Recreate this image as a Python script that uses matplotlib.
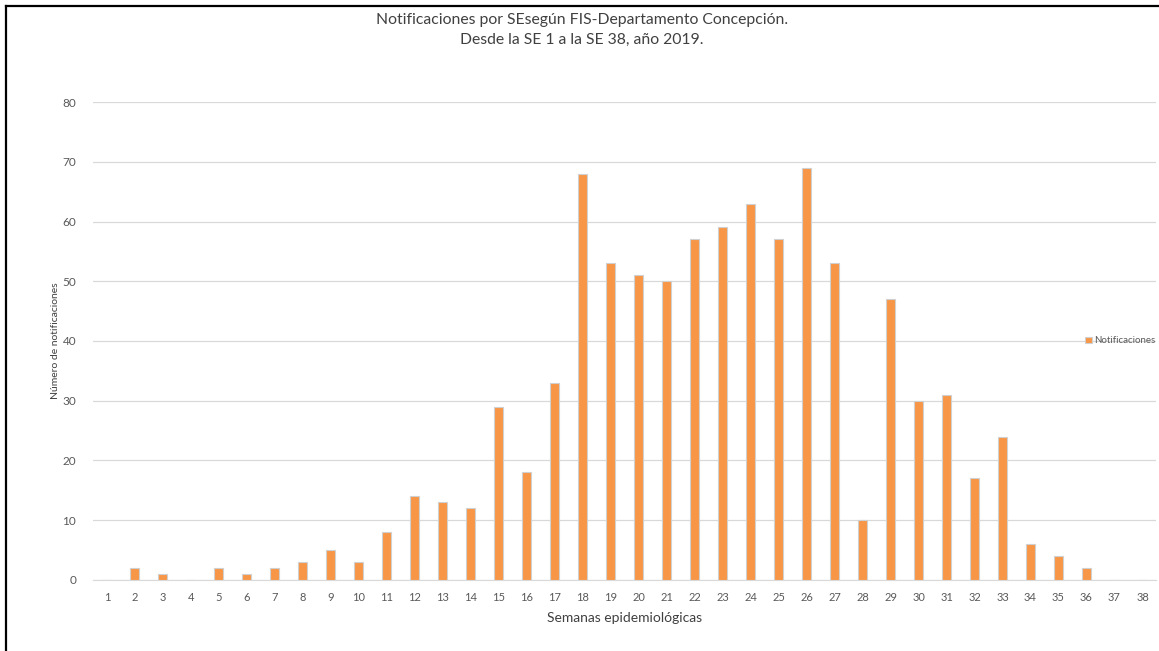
import numpy as np
import matplotlib.pyplot as plt
from matplotlib.lines import Line2D

# Weekly notifications, SE 1 to SE 38
semanas = list(range(1, 39))
notificaciones = [0, 2, 1, 0, 2, 1, 2, 3, 5, 3, 8, 14, 13, 12, 29, 18, 33, 68, 53, 51,
                  50, 57, 59, 63, 57, 69, 53, 10, 47, 30, 31, 17, 24, 6, 4, 2, 0, 0]

plt.rcParams['font.family'] = ['Lato', 'DejaVu Sans']

fig = plt.figure(figsize=(11.59, 6.51), dpi=100)
ax = fig.add_axes([0.0802, 0.1091, 0.9176, 0.7342])

x = np.arange(len(semanas))
ax.bar(x, notificaciones, width=0.32, color='#F79646', edgecolor='#d0d0d0',
       linewidth=0.8, label='Notificaciones', zorder=3)

ax.set_xlim(-0.5, len(semanas) - 0.5)
ax.set_ylim(0, 80)
ax.set_yticks(range(0, 81, 10))
ax.set_xticks(x)
ax.set_xticklabels([str(s) for s in semanas])
ax.tick_params(axis='both', length=0, labelsize=8.5, colors='#595959')
ax.tick_params(axis='x', labelsize=8, pad=9)
ax.tick_params(axis='y', pad=12)
ax.yaxis.grid(True, color='#d9d9d9', linewidth=0.9, zorder=0)
for s in ['top', 'right', 'left']:
    ax.spines[s].set_visible(False)
ax.spines['bottom'].set_color('#d9d9d9')

ax.set_xlabel('Semanas epidemiológicas', fontsize=10, color='#404040', labelpad=6)
ax.set_ylabel('Número de notificaciones', fontsize=7.5, color='#404040', labelpad=2)

fig.text(0.502, 0.970, 'Notificaciones por SEsegún FIS-Departamento Concepción.',
         ha='center', va='center', fontsize=11.3, color='#404040')
fig.text(0.502, 0.939, 'Desde la SE 1 a la SE 38, año 2019.',
         ha='center', va='center', fontsize=11.3, color='#404040')

ax.legend(loc='center left', bbox_to_anchor=(0.925, 0.5), frameon=False, fontsize=7,
          handlelength=0.7, handleheight=0.7, handletextpad=0.2, labelcolor='#595959')

# frame lines on left and top
fig.add_artist(Line2D([6 / 1159, 6 / 1159], [0, 1 - 6 / 651], color='black', linewidth=1.6,
                      transform=fig.transFigure))
fig.add_artist(Line2D([6 / 1159, 1], [1 - 6 / 651, 1 - 6 / 651], color='black', linewidth=1.6,
                      transform=fig.transFigure))

fig.savefig('out.png', dpi=100)
